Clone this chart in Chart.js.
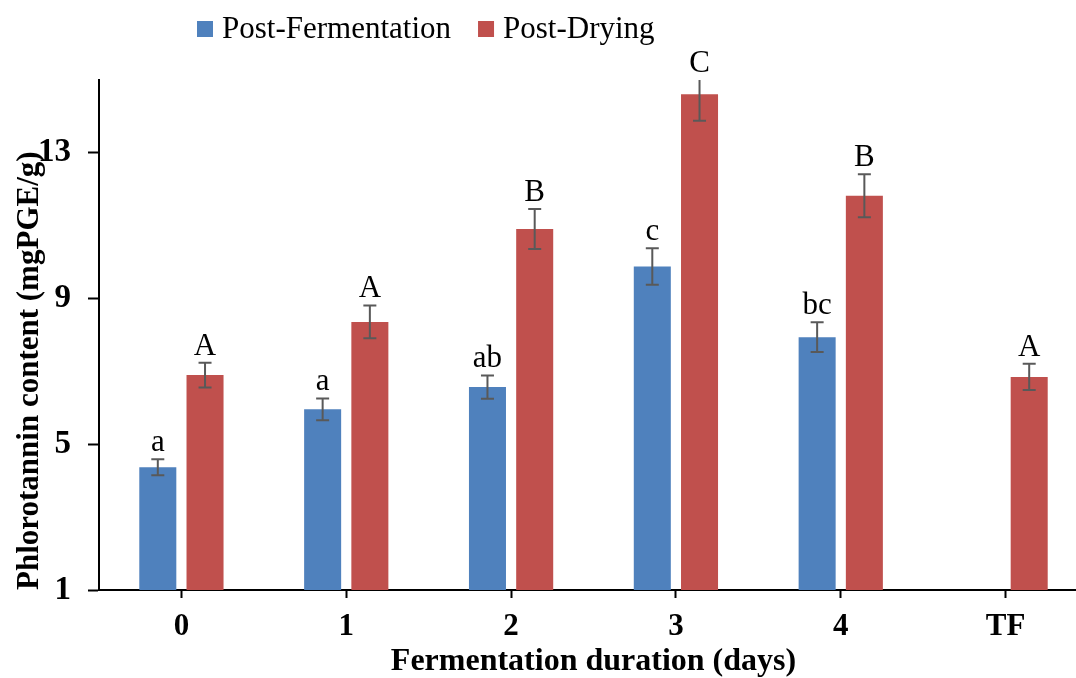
<!DOCTYPE html>
<html>
<head>
<meta charset="utf-8">
<script src="https://cdn.jsdelivr.net/npm/chart.js@4"></script>
<style>
  body { margin: 0; overflow: hidden; background: #fff; }
  #wrap { width: 1090px; height: 678px; }
</style>
</head>
<body>
<div id="wrap"><canvas id="phloroChart"></canvas></div>
<script>
const days = ['0', '1', '2', '3', '4', 'TF'];
const postFermentation = [4.37, 5.96, 6.57, 9.88, 7.94, null];
const postFermentationErr = [0.22, 0.30, 0.32, 0.50, 0.41, null];
const postDrying = [6.90, 8.36, 10.91, 14.61, 11.82, 6.85];
const postDryingErr = [0.34, 0.45, 0.55, 0.73, 0.59, 0.36];
const fermentationLetters = ['a', 'a', 'ab', 'c', 'bc', ''];
const dryingLetters = ['A', 'A', 'B', 'C', 'B', 'A'];
const yTicks = [1, 5, 9, 13];

const serif = "'Liberation Serif', 'Times New Roman', serif";

// error bars + significance letters over each bar
const errorBars = {
  id: 'errorBars',
  afterDatasetsDraw(chart) {
    const { ctx, chartArea, scales: { y } } = chart;
    chart.data.datasets.forEach((ds, i) => {
      const meta = chart.getDatasetMeta(i);
      meta.data.forEach((bar, j) => {
        const v = ds.data[j];
        if (v == null) return;
        const e = ds.errors[j];
        let top = y.getPixelForValue(v + e);
        const bottom = y.getPixelForValue(v - e);
        const clipped = top < chartArea.top;
        if (clipped) top = chartArea.top;
        ctx.save();
        ctx.strokeStyle = '#595959';
        ctx.lineWidth = 2;
        ctx.beginPath();
        ctx.moveTo(bar.x, top);
        ctx.lineTo(bar.x, bottom);
        if (!clipped) {
          ctx.moveTo(bar.x - 6.5, top);
          ctx.lineTo(bar.x + 6.5, top);
        }
        ctx.moveTo(bar.x - 6.5, bottom);
        ctx.lineTo(bar.x + 6.5, bottom);
        ctx.stroke();
        ctx.fillStyle = '#000';
        ctx.font = '31px ' + serif;
        ctx.textAlign = 'center';
        ctx.textBaseline = 'alphabetic';
        ctx.fillText(ds.letters[j], bar.x, top - 8);
        ctx.restore();
      });
    });
  }
};

// legend drawn like the Excel one (sits left of centre)
const topLegend = {
  id: 'topLegend',
  afterDraw(chart) {
    const { ctx } = chart;
    let x = 197;
    ctx.save();
    ctx.font = '31px ' + serif;
    ctx.textBaseline = 'middle';
    ctx.textAlign = 'left';
    chart.data.datasets.forEach((ds) => {
      ctx.fillStyle = ds.backgroundColor;
      ctx.fillRect(x, 21, 16, 16);
      x += 25;
      ctx.fillStyle = '#000';
      ctx.fillText(ds.label, x, 30);
      x += ctx.measureText(ds.label).width + 27;
    });
    ctx.restore();
  }
};

const ctx = document.getElementById('phloroChart');
new Chart(ctx, {
  type: 'bar',
  data: {
    labels: days,
    datasets: [
      {
        label: 'Post-Fermentation',
        data: postFermentation,
        errors: postFermentationErr,
        letters: fermentationLetters,
        backgroundColor: '#4F81BD',
      },
      {
        label: 'Post-Drying',
        data: postDrying,
        errors: postDryingErr,
        letters: dryingLetters,
        backgroundColor: '#C0504D',
      },
    ],
  },
  options: {
    responsive: true,
    maintainAspectRatio: false,
    animation: false,
    devicePixelRatio: 1,
    categoryPercentage: 0.573,
    barPercentage: 0.784,
    layout: { padding: { top: 80, right: 2, left: 0, bottom: 0 } },
    plugins: {
      legend: { display: false },
      tooltip: { enabled: false },
    },
    scales: {
      x: {
        offset: true,
        grid: { drawOnChartArea: false, offset: false, tickLength: 8, color: '#000', tickWidth: 2 },
        border: { color: '#000', width: 2 },
        ticks: { color: '#000', padding: 10, font: { family: serif, size: 31, weight: 'bold' } },
        title: {
          display: true,
          text: 'Fermentation duration (days)',
          color: '#000',
          padding: 0,
          font: { family: serif, size: 32, weight: 'bold', lineHeight: 1 },
        },
        afterFit(scale) { scale.height = 88; },
      },
      y: {
        min: 1,
        max: 15,
        afterBuildTicks(scale) { scale.ticks = yTicks.map((v) => ({ value: v })); },
        grid: { drawOnChartArea: false, tickLength: 11, color: '#000', tickWidth: 2 },
        border: { color: '#000', width: 2 },
        ticks: { color: '#000', padding: 17, font: { family: serif, size: 33, weight: 'bold' } },
        title: {
          display: true,
          text: 'Phlorotannin content (mgPGE/g)',
          align: 'start',
          color: '#000',
          padding: { top: 11, bottom: 0 },
          font: { family: serif, size: 31, weight: 'bold' },
        },
        afterFit(scale) { scale.width = 99; },
      },
    },
  },
  plugins: [errorBars, topLegend],
});
</script>
</body>
</html>
